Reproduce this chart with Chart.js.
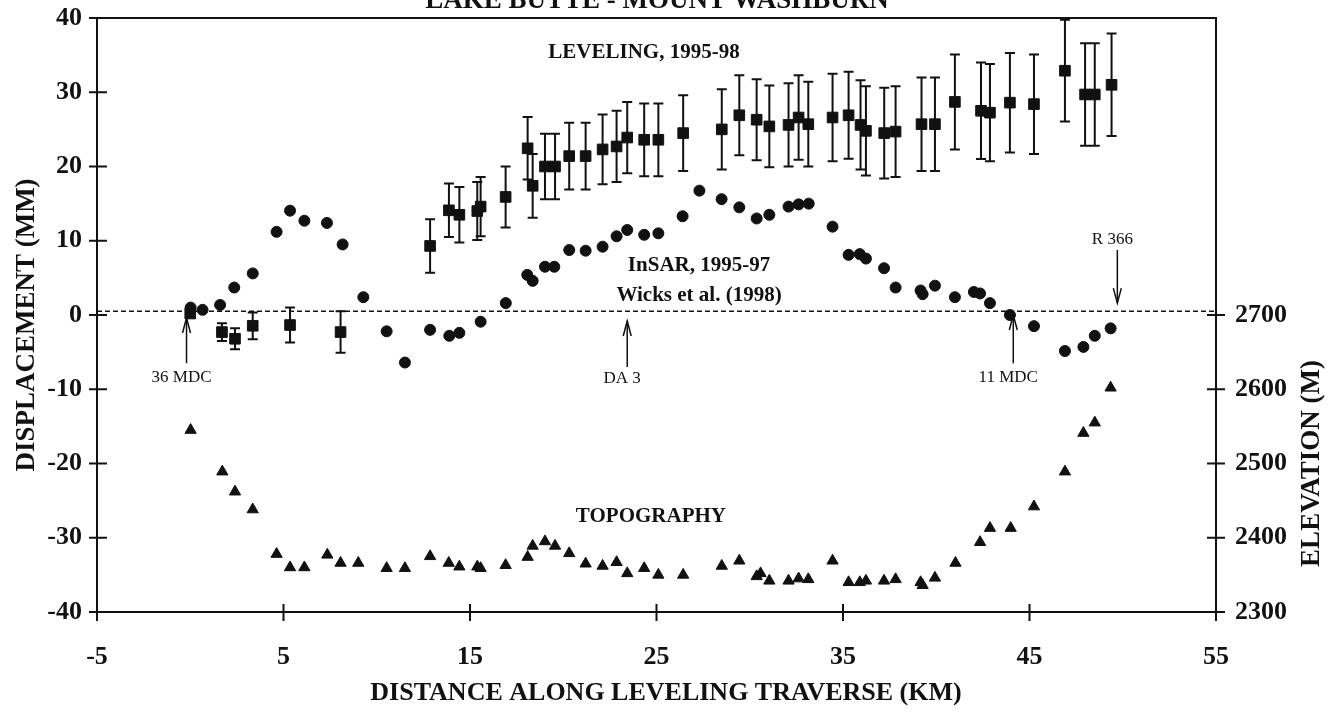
<!DOCTYPE html>
<html lang="en">
<head>
    <meta charset="UTF-8">
    <title>Lake Butte - Mount Washburn</title>
    <script src="https://cdn.jsdelivr.net/npm/chart.js"></script>
    <style>
        body { margin: 0; background: #fff; }
        canvas { display: block; }
    </style>
</head>
<body>
    <canvas id="profileChart" width="1338" height="719"></canvas>

    <script>
        // leveling 1995-98 (distance km, displacement mm, error bar half-length mm)
        const levX = [0, 1.7, 2.4, 3.35, 5.35, 8.06, 12.86, 13.87, 14.43, 15.39, 15.57, 16.91,
            18.09, 18.36, 19.02, 19.56, 20.32, 21.2, 22.11, 22.86, 23.43, 24.34, 25.1, 26.43,
            28.5, 29.44, 30.37, 31.05, 32.08, 32.62, 33.14, 34.44, 35.3, 35.94, 36.23, 37.21,
            37.82, 39.21, 39.93, 41.0, 42.4, 42.88, 43.95, 45.24, 46.9, 47.98, 48.5, 49.4];
        const levY = [0.2, -2.3, -3.2, -1.45, -1.35, -2.3, 9.3, 14.1, 13.5, 14.0, 14.6, 15.9,
            22.45, 17.4, 20.0, 20.0, 21.4, 21.4, 22.3, 22.7, 23.9, 23.6, 23.6, 24.5,
            25.0, 26.9, 26.3, 25.4, 25.6, 26.6, 25.7, 26.6, 26.9, 25.6, 24.8, 24.5,
            24.7, 25.7, 25.7, 28.7, 27.5, 27.25, 28.6, 28.4, 32.9, 29.7, 29.7, 31.0];
        const levErr = [0, 1.2, 1.4, 1.8, 2.35, 2.8, 3.6, 3.6, 3.75, 3.9, 4.0, 4.1,
            4.2, 4.3, 4.4, 4.4, 4.5, 4.5, 4.7, 4.8, 4.8, 4.9, 4.9, 5.1,
            5.4, 5.4, 5.45, 5.5, 5.6, 5.7, 5.7, 5.9, 5.85, 6.0, 6.0, 6.1,
            6.1, 6.3, 6.3, 6.4, 6.5, 6.55, 6.7, 6.7, 6.85, 6.9, 6.9, 6.9];

        // InSAR 1995-97 (Wicks et al. 1998)
        const sarX = [0.02, 0.66, 1.6, 2.36, 3.35, 4.63, 5.35, 6.12, 7.33, 8.17, 9.28, 10.53,
            11.51, 12.86, 13.89, 14.43, 15.57, 16.92, 18.07, 18.36, 19.02, 19.52, 20.32, 21.2,
            22.11, 22.86, 23.43, 24.34, 25.1, 26.4, 27.3, 28.49, 29.44, 30.37, 31.05, 32.08,
            32.62, 33.16, 34.44, 35.3, 35.9, 36.23, 37.2, 37.82, 39.16, 39.27, 39.93, 41.0,
            42.02, 42.35, 42.88, 43.95, 45.24, 46.9, 47.89, 48.5, 49.35];
        const sarY = [1.0, 0.7, 1.35, 3.7, 5.6, 11.2, 14.05, 12.7, 12.4, 9.5, 2.4, -2.2,
            -6.4, -2.0, -2.8, -2.4, -0.9, 1.6, 5.4, 4.6, 6.5, 6.5, 8.75, 8.66,
            9.2, 10.6, 11.45, 10.8, 11.0, 13.3, 16.75, 15.6, 14.5, 13.0, 13.5, 14.6,
            14.9, 15.0, 11.9, 8.1, 8.2, 7.6, 6.3, 3.7, 3.3, 2.8, 3.95, 2.4,
            3.1, 2.9, 1.6, 0.0, -1.5, -4.85, -4.3, -2.8, -1.8];

        // topography (elevation m, right axis)
        const topoX = [0.02, 1.72, 2.4, 3.35, 4.63, 5.35, 6.12, 7.35, 8.06, 9.01, 10.53, 11.51,
            12.86, 13.86, 14.43, 15.39, 15.57, 16.91, 18.09, 18.36, 19.02, 19.56, 20.32, 21.2,
            22.11, 22.86, 23.43, 24.34, 25.1, 26.43, 28.5, 29.44, 30.37, 30.58, 31.05, 32.08,
            32.62, 33.14, 34.44, 35.3, 35.9, 36.23, 37.2, 37.82, 39.16, 39.27, 39.93, 41.03,
            42.35, 42.88, 43.99, 45.24, 46.9, 47.89, 48.5, 49.35];
        const topoElev = [2545, 2489, 2462, 2438, 2378, 2360, 2360, 2377, 2366, 2366, 2359, 2359,
            2375, 2366, 2361, 2361, 2359, 2363, 2374, 2389, 2395, 2389, 2379, 2365,
            2362, 2367, 2352, 2359, 2350, 2350, 2362, 2369, 2348, 2352, 2342, 2342,
            2345, 2344, 2369, 2340, 2340, 2342, 2342, 2344, 2340, 2336, 2346, 2366,
            2394, 2413, 2413, 2442, 2489, 2541, 2555, 2602];

        // benchmark arrows
        const markNames = ['36 MDC', 'DA 3', '11 MDC', 'R 366'];
        const markX = [-0.2, 23.43, 44.13, 49.71];
        const markTail = [-6.5, -7.0, -6.5, 8.75];
        const markTip = [-0.4, -0.8, 0, 1.6];
        const markLabelY = [-8.4, -8.5, -8.4, 10.2];

        const refLine = 0.5;
        const ink = '#111';
        const serif = "'Liberation Serif', 'Times New Roman', serif";

        function pts(xs, ys) {
            return xs.map((x, i) => ({ x: x, y: ys[i] }));
        }

        function arrowHead(ctx, x, y, dir) {
            ctx.beginPath();
            ctx.moveTo(x - 4, y + dir * 15);
            ctx.lineTo(x, y);
            ctx.lineTo(x + 4, y + dir * 15);
            ctx.stroke();
        }

        // drop the half-label padding chart.js adds, so the plot box sits where the picture has it
        function noPad(scale) {
            scale.paddingTop = 0;
            scale.paddingBottom = 0;
            scale.paddingLeft = 0;
            scale.paddingRight = 0;
        }

        const extras = {
            id: 'extras',
            afterDatasetsDraw(chart) {
                const ctx = chart.ctx;
                const xs = chart.scales.x, ys = chart.scales.y, ys2 = chart.scales.y2;
                const a = chart.chartArea;
                ctx.save();
                ctx.strokeStyle = ink;
                ctx.fillStyle = ink;

                // dashed reference line
                ctx.lineWidth = 1.5;
                ctx.setLineDash([5, 3]);
                const yr = ys.getPixelForValue(refLine);
                ctx.beginPath();
                ctx.moveTo(a.left, yr);
                ctx.lineTo(a.right, yr);
                ctx.stroke();
                ctx.setLineDash([]);

                // error bars on leveling
                ctx.lineWidth = 2;
                levX.forEach((x, i) => {
                    if (!levErr[i]) return;
                    const px = xs.getPixelForValue(x);
                    const y1 = ys.getPixelForValue(levY[i] + levErr[i]);
                    const y2 = ys.getPixelForValue(levY[i] - levErr[i]);
                    ctx.beginPath();
                    ctx.moveTo(px, y1); ctx.lineTo(px, y2);
                    ctx.moveTo(px - 5, y1); ctx.lineTo(px + 5, y1);
                    ctx.moveTo(px - 5, y2); ctx.lineTo(px + 5, y2);
                    ctx.stroke();
                });

                // frame
                ctx.lineWidth = 2;
                ctx.strokeRect(a.left, a.top, a.right - a.left, a.bottom - a.top);

                // tick marks crossing the axes
                xs.ticks.forEach(t => {
                    const px = xs.getPixelForValue(t.value);
                    ctx.beginPath();
                    ctx.moveTo(px, a.bottom - 8);
                    ctx.lineTo(px, a.bottom + 9);
                    ctx.stroke();
                });
                ys.ticks.forEach(t => {
                    const py = ys.getPixelForValue(t.value);
                    const major = t.value % 10 === 0;
                    ctx.beginPath();
                    ctx.moveTo(a.left - (major ? 8 : 5), py);
                    ctx.lineTo(a.left + (major ? 10 : 8), py);
                    ctx.stroke();
                });
                ys2.ticks.forEach(t => {
                    const py = ys2.getPixelForValue(t.value);
                    const major = t.value % 100 === 0;
                    ctx.beginPath();
                    ctx.moveTo(a.right - (major ? 9 : 7), py);
                    ctx.lineTo(a.right + (major ? 9 : 6), py);
                    ctx.stroke();
                });

                // benchmark arrows and names
                ctx.lineWidth = 1.5;
                ctx.font = '17px ' + serif;
                ctx.textAlign = 'center';
                ctx.textBaseline = 'middle';
                markNames.forEach((name, i) => {
                    const px = xs.getPixelForValue(markX[i]);
                    const t0 = ys.getPixelForValue(markTail[i]);
                    const t1 = ys.getPixelForValue(markTip[i]);
                    ctx.beginPath();
                    ctx.moveTo(px, t0);
                    ctx.lineTo(px, t1);
                    ctx.stroke();
                    arrowHead(ctx, px, t1, t1 < t0 ? 1 : -1);
                    ctx.fillText(name, px - 5, ys.getPixelForValue(markLabelY[i]));
                });

                // series labels
                ctx.font = 'bold 21px ' + serif;
                ctx.fillText('LEVELING, 1995-98', xs.getPixelForValue(24.33), ys.getPixelForValue(35.4));
                ctx.fillText('InSAR, 1995-97', xs.getPixelForValue(27.28), ys.getPixelForValue(6.6));
                ctx.fillText('Wicks et al. (1998)', xs.getPixelForValue(27.28), ys.getPixelForValue(2.6));
                ctx.fillText('TOPOGRAPHY', xs.getPixelForValue(24.7), ys.getPixelForValue(-27.2));

                // titles
                ctx.font = 'bold 27px ' + serif;
                ctx.textBaseline = 'alphabetic';
                ctx.fillText('LAKE BUTTE - MOUNT WASHBURN', 657, 8);
                ctx.font = 'bold 26px ' + serif;
                ctx.fillText('DISTANCE ALONG LEVELING TRAVERSE (KM)', 666, 700);

                ctx.font = 'bold 27px ' + serif;
                ctx.textBaseline = 'middle';
                ctx.save();
                ctx.translate(27, 325);
                ctx.rotate(-Math.PI / 2);
                ctx.fillText('DISPLACEMENT (MM)', 0, 0);
                ctx.restore();
                ctx.save();
                ctx.translate(1312, ys2.getPixelForValue(2500));
                ctx.rotate(-Math.PI / 2);
                ctx.fillText('ELEVATION (M)', 0, 0);
                ctx.restore();

                ctx.restore();
            }
        };

        const tickFont = { family: serif, size: 26, weight: 'bold' };

        new Chart(document.getElementById('profileChart'), {
            type: 'scatter',
            data: {
                datasets: [
                    {
                        label: 'Topography',
                        data: pts(topoX, topoElev),
                        yAxisID: 'y2',
                        pointStyle: 'triangle',
                        pointRadius: 6.5,
                        backgroundColor: ink,
                        borderColor: ink,
                        borderWidth: 1
                    },
                    {
                        label: 'InSAR, 1995-97',
                        data: pts(sarX, sarY),
                        yAxisID: 'y',
                        pointStyle: 'circle',
                        pointRadius: 5.5,
                        backgroundColor: ink,
                        borderColor: ink,
                        borderWidth: 1
                    },
                    {
                        label: 'Leveling, 1995-98',
                        data: pts(levX, levY),
                        yAxisID: 'y',
                        pointStyle: 'rect',
                        pointRadius: 7.5,
                        backgroundColor: ink,
                        borderColor: ink,
                        borderWidth: 1
                    }
                ]
            },
            options: {
                responsive: false,
                animation: false,
                devicePixelRatio: 1,
                layout: { padding: { top: 18, left: 0, right: 0, bottom: 0 } },
                plugins: {
                    legend: { display: false },
                    tooltip: { enabled: false }
                },
                scales: {
                    x: {
                        type: 'linear',
                        min: -5,
                        max: 55,
                        grid: { display: false, drawTicks: false },
                        border: { display: false },
                        afterFit(scale) { scale.height = 107; noPad(scale); },
                        ticks: {
                            stepSize: 5,
                            autoSkip: false,
                            maxRotation: 0,
                            padding: 30,
                            color: ink,
                            font: tickFont,
                            callback: v => ((v + 5) % 10 === 0 ? String(v) : null)
                        }
                    },
                    y: {
                        position: 'left',
                        min: -40,
                        max: 40,
                        grid: { display: false, drawTicks: false },
                        border: { display: false },
                        afterFit(scale) { scale.width = 97; noPad(scale); },
                        ticks: {
                            stepSize: 5,
                            autoSkip: false,
                            padding: 15,
                            color: ink,
                            font: tickFont,
                            callback: v => (v % 10 === 0 ? String(v) : null)
                        }
                    },
                    y2: {
                        position: 'right',
                        min: 2300,
                        max: 3100,
                        grid: { display: false, drawTicks: false },
                        border: { display: false },
                        afterFit(scale) { scale.width = 122; noPad(scale); },
                        ticks: {
                            stepSize: 50,
                            autoSkip: false,
                            padding: 19,
                            color: ink,
                            font: tickFont,
                            callback: v => (v % 100 === 0 && v <= 2700 ? String(v) : null)
                        }
                    }
                }
            },
            plugins: [extras]
        });
    </script>
</body>
</html>
